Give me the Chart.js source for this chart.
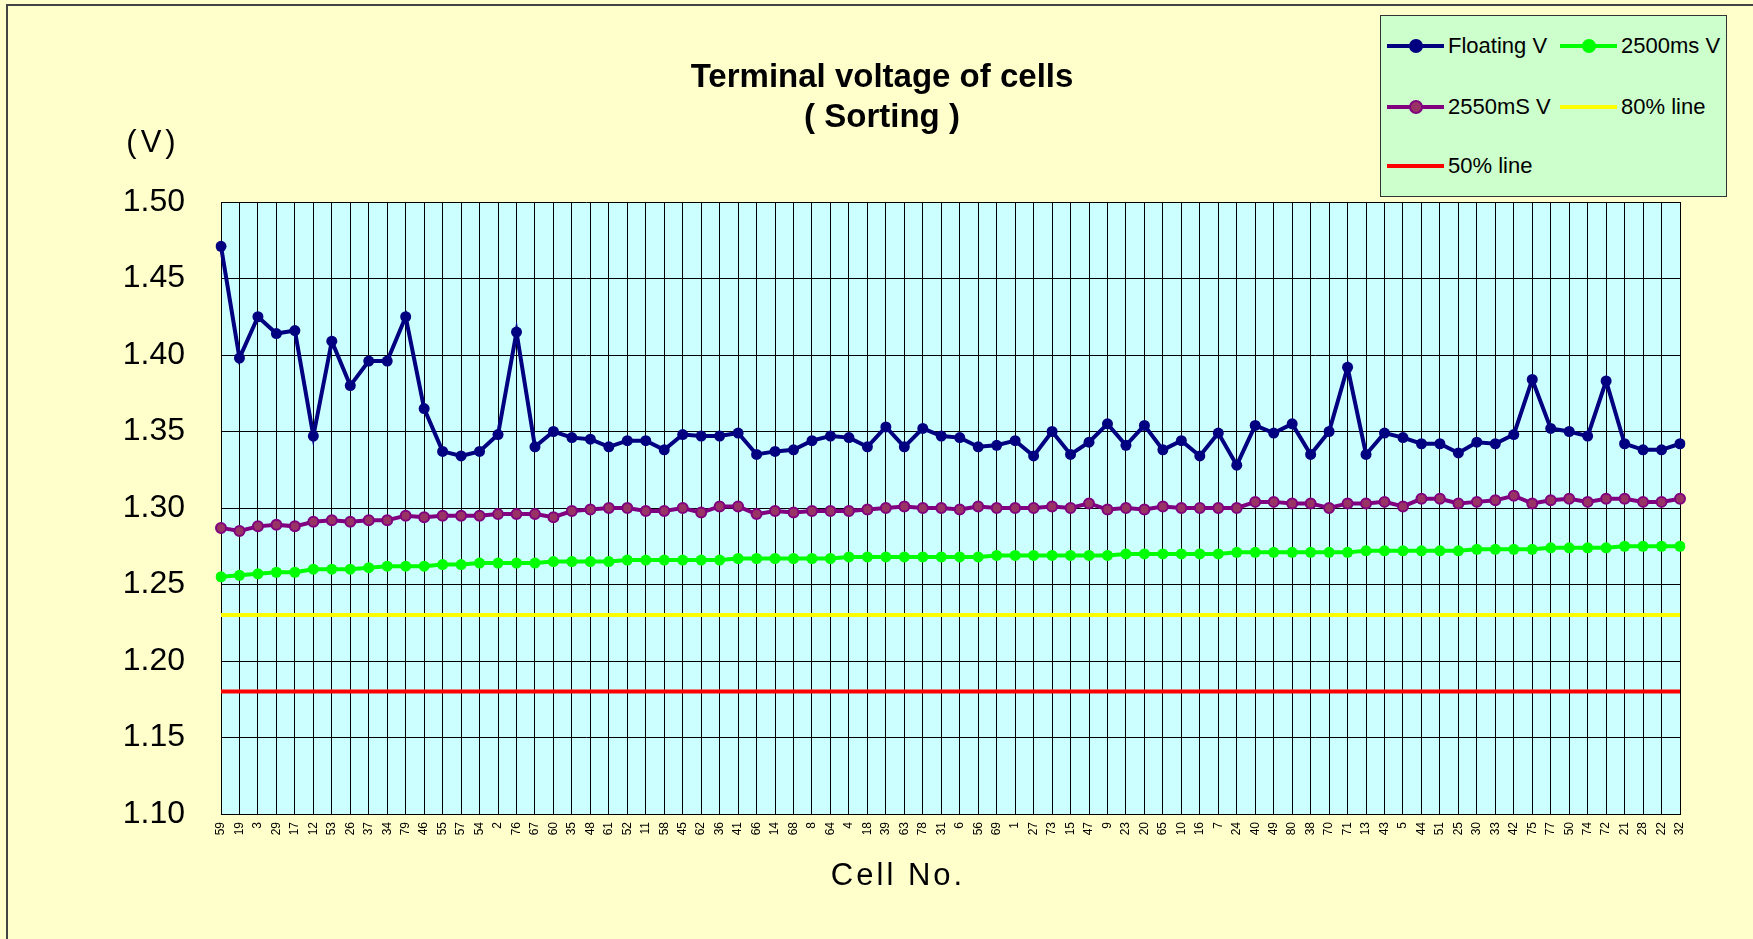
<!DOCTYPE html>
<html>
<head>
<meta charset="utf-8">
<script src="https://cdn.jsdelivr.net/npm/chart.js@4.4.1/dist/chart.umd.min.js"></script>
<style>
  html, body { margin: 0; padding: 0; background: #ffffcc; }
  #wrap { position: relative; width: 1753px; height: 939px; overflow: hidden; font-family: "Liberation Sans", Arial, sans-serif; }
  #frame { position: absolute; left: 6px; top: 4px; width: 1800px; height: 1000px; border-top: 2px solid #444; border-left: 2px solid #444; }
  #chart { position: absolute; left: 0; top: 0; }
  .txt { position: absolute; color: #000; white-space: nowrap; transform: translate(-50%, -50%); }
  #title { left: 882px; top: 96px; font-size: 33px; font-weight: bold; text-align: center; line-height: 40px; }
  #vunit { left: 153px; top: 142px; font-size: 31px; letter-spacing: 4px; }
  #xname { left: 898px; top: 875px; font-size: 31px; letter-spacing: 3px; }
  #legend { position: absolute; left: 1380px; top: 15px; width: 345px; height: 180px; background: #ccffcc; border: 1px solid #333; }
  .item { position: absolute; height: 24px; font-size: 22px; line-height: 24px; white-space: nowrap; }
  .mark { position: absolute; left: 0; top: 10px; width: 57px; height: 4px; }
  .dot { position: absolute; left: 22px; top: -5px; width: 14px; height: 14px; border-radius: 50%; box-sizing: border-box; }
  .lbl { position: absolute; left: 61px; top: 0; white-space: nowrap; }
</style>
</head>
<body>
<div id="wrap">
  <div id="frame"></div>
  <canvas id="chart" width="1753" height="939"></canvas>
  <div id="title" class="txt">Terminal voltage of cells<br>( Sorting )</div>
  <div id="vunit" class="txt">(V)</div>
  <div id="xname" class="txt">Cell No.</div>
  <div id="legend"></div>
</div>
<script>
const cellNos = [
  "59", "19", "3", "29", "17", "12", "53", "26", "37", "34", "79", "46", "55", "57", "54", "2",
  "76", "67", "60", "35", "48", "61", "52", "11", "58", "45", "62", "36", "41", "66", "14", "68",
  "8", "64", "4", "18", "39", "63", "78", "31", "6", "56", "69", "1", "27", "73", "15", "47",
  "9", "23", "20", "65", "10", "16", "7", "24", "40", "49", "80", "38", "70", "71", "13", "43",
  "5", "44", "51", "25", "30", "33", "42", "75", "77", "50", "74", "72", "21", "28", "22", "32",
];

const floatingV = [
  1.471, 1.398, 1.425, 1.414, 1.416, 1.347, 1.409, 1.380, 1.396, 1.396, 1.425, 1.365, 1.337, 1.334, 1.337, 1.348,
  1.415, 1.340, 1.350, 1.346, 1.345, 1.340, 1.344, 1.344, 1.338, 1.348, 1.347, 1.347, 1.349, 1.335, 1.337, 1.338,
  1.344, 1.347, 1.346, 1.340, 1.353, 1.340, 1.352, 1.347, 1.346, 1.340, 1.341, 1.344, 1.334, 1.350, 1.335, 1.343,
  1.355, 1.341, 1.354, 1.338, 1.344, 1.334, 1.349, 1.328, 1.354, 1.349, 1.355, 1.335, 1.350, 1.392, 1.335, 1.349,
  1.346, 1.342, 1.342, 1.336, 1.343, 1.342, 1.348, 1.384, 1.352, 1.350, 1.347, 1.383, 1.342, 1.338, 1.338, 1.342,
];

const v2500ms = [
  1.255, 1.256, 1.257, 1.258, 1.258, 1.260, 1.260, 1.260, 1.261, 1.262, 1.262, 1.262, 1.263, 1.263, 1.264, 1.264,
  1.264, 1.264, 1.265, 1.265, 1.265, 1.265, 1.266, 1.266, 1.266, 1.266, 1.266, 1.266, 1.267, 1.267, 1.267, 1.267,
  1.267, 1.267, 1.268, 1.268, 1.268, 1.268, 1.268, 1.268, 1.268, 1.268, 1.269, 1.269, 1.269, 1.269, 1.269, 1.269,
  1.269, 1.270, 1.270, 1.270, 1.270, 1.270, 1.270, 1.271, 1.271, 1.271, 1.271, 1.271, 1.271, 1.271, 1.272, 1.272,
  1.272, 1.272, 1.272, 1.272, 1.273, 1.273, 1.273, 1.273, 1.274, 1.274, 1.274, 1.274, 1.275, 1.275, 1.275, 1.275,
];

const v2550ms = [
  1.287, 1.285, 1.288, 1.289, 1.288, 1.291, 1.292, 1.291, 1.292, 1.292, 1.295, 1.294, 1.295, 1.295, 1.295, 1.296,
  1.296, 1.296, 1.294, 1.298, 1.299, 1.300, 1.300, 1.298, 1.298, 1.300, 1.297, 1.301, 1.301, 1.296, 1.298, 1.297,
  1.298, 1.298, 1.298, 1.299, 1.300, 1.301, 1.300, 1.300, 1.299, 1.301, 1.300, 1.300, 1.300, 1.301, 1.300, 1.303,
  1.299, 1.300, 1.299, 1.301, 1.300, 1.300, 1.300, 1.300, 1.304, 1.304, 1.303, 1.303, 1.300, 1.303, 1.303, 1.304,
  1.301, 1.306, 1.306, 1.303, 1.304, 1.305, 1.308, 1.303, 1.305, 1.306, 1.304, 1.306, 1.306, 1.304, 1.304, 1.306,
];

const LINE_80 = 1.23;
const LINE_50 = 1.18;
const yTicks = [1.10, 1.15, 1.20, 1.25, 1.30, 1.35, 1.40, 1.45, 1.50];

const first = cellNos[0];
const last = cellNos[cellNos.length - 1];

const datasets = [
  {
    label: "Floating V", data: floatingV, borderColor: "#000080", backgroundColor: "#000080",
    borderWidth: 4, pointRadius: 5.5, pointBorderWidth: 0, pointBackgroundColor: "#000080",
  },
  {
    label: "2500ms V", data: v2500ms, borderColor: "#00ff00", backgroundColor: "#00ff00",
    borderWidth: 4, pointRadius: 5.5, pointBorderWidth: 0, pointBackgroundColor: "#00ff00",
  },
  {
    label: "2550mS V", data: v2550ms, borderColor: "#800080", backgroundColor: "#993366",
    borderWidth: 4, pointRadius: 5, pointBorderWidth: 2, pointBorderColor: "#800080",
    pointBackgroundColor: "#993366",
  },
  {
    label: "80% line", data: [{ x: first, y: LINE_80 }, { x: last, y: LINE_80 }],
    borderColor: "#ffff00", backgroundColor: "#ffff00", borderWidth: 4, pointRadius: 0,
  },
  {
    label: "50% line", data: [{ x: first, y: LINE_50 }, { x: last, y: LINE_50 }],
    borderColor: "#ff0000", backgroundColor: "#ff0000", borderWidth: 4, pointRadius: 0,
  },
];

const plotBg = {
  id: "plotBg",
  beforeDraw(chart) {
    const { ctx, chartArea: a } = chart;
    ctx.save();
    ctx.fillStyle = "#ccffff";
    ctx.fillRect(a.left, a.top, a.right - a.left, a.bottom - a.top);
    ctx.restore();
  },
};

new Chart(document.getElementById("chart"), {
  type: "line",
  data: { labels: cellNos, datasets },
  plugins: [plotBg],
  options: {
    responsive: false,
    animation: false,
    layout: { padding: { top: 202, right: 73, bottom: 0, left: 0 } },
    plugins: { legend: { display: false }, tooltip: { enabled: false } },
    scales: {
      x: {
        offset: false,
        grid: { color: "#000", lineWidth: 1, drawTicks: false },
        border: { color: "#000", width: 1 },
        ticks: {
          autoSkip: false, maxRotation: 90, minRotation: 90, padding: 8,
          color: "#000", font: { family: "Liberation Sans", size: 12 },
        },
        afterFit: (s) => { s.height = 125; },
      },
      y: {
        min: 1.10, max: 1.50,
        afterBuildTicks: (s) => { s.ticks = yTicks.map((v) => ({ value: v })); },
        grid: { color: "#000", lineWidth: 1, drawTicks: false },
        border: { color: "#000", width: 1 },
        ticks: {
          padding: 36, color: "#000",
          font: { family: "Liberation Sans", size: 32 },
          callback: (v) => Number(v).toFixed(2),
        },
        afterFit: (s) => { s.width = 221; },
      },
    },
  },
});

// legend boxes, laid out like the original two-column key
const legendPos = [
  { left: 6, top: 18 }, { left: 179, top: 18 },
  { left: 6, top: 79 }, { left: 179, top: 79 },
  { left: 6, top: 138 },
];
const legendEl = document.getElementById("legend");
legendEl.innerHTML = datasets
  .map((d, i) => {
    const p = legendPos[i];
    const dot = d.pointRadius
      ? `<div class="dot" style="background:${d.pointBackgroundColor};${d.pointBorderWidth ? `border:2px solid ${d.pointBorderColor}` : ""}"></div>`
      : "";
    return `<div class="item" style="left:${p.left}px;top:${p.top}px">
      <div class="mark" style="background:${d.borderColor}">${dot}</div>
      <div class="lbl">${d.label}</div>
    </div>`;
  })
  .join("");
</script>
</body>
</html>
